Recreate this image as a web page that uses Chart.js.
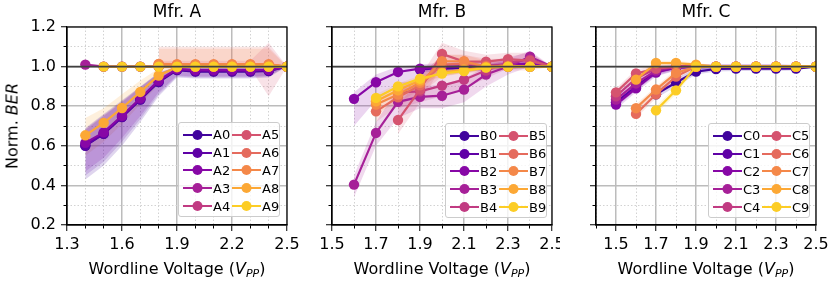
<!DOCTYPE html>
<html>
<head>
<meta charset="utf-8">
<script src="https://cdn.jsdelivr.net/npm/chart.js@4.4.1/dist/chart.umd.min.js"></script>
<style>
  body { margin: 0; width: 830px; height: 281px; position: relative; overflow: hidden; background: #fff;
         font-family: 'DejaVu Sans', sans-serif; color: #000; }
  canvas { position: absolute; top: 0; }
  .title { position: absolute; top: 0; width: 220px; height: 22px; line-height: 22px; text-align: center; font-size: 17px; }
  .xlabel { position: absolute; top: 258px; width: 220px; height: 22px; line-height: 22px; text-align: center;
            font-size: 16px; white-space: nowrap; }
  .xlabel sub { font-size: 11px; vertical-align: -3px; line-height: 0; }
  .ylabel { position: absolute; left: 12px; top: 126px; transform: translate(-50%, -50%) rotate(-90deg);
            font-size: 16px; white-space: nowrap; }
  .legend { position: absolute; width: 102px; height: 95px; box-sizing: border-box; padding: 3px 0 0 4px;
            border: 1px solid #cccccc; border-radius: 3px; background: rgba(255, 255, 255, 0.8);
            display: grid; grid-template-columns: 49px auto; grid-template-rows: repeat(5, 17.8px);
            grid-auto-flow: column; font-size: 13px; }
  .legend .item { display: flex; align-items: center; gap: 1px; }
  .legend svg { display: block; }
</style>
</head>
<body>
<canvas id="chartA" width="300" height="281" style="left:0px"></canvas>
<canvas id="chartB" width="260" height="281" style="left:300px"></canvas>
<canvas id="chartC" width="270" height="281" style="left:560px"></canvas>

<div class="title" style="left:67px">Mfr. A</div>
<div class="title" style="left:332px">Mfr. B</div>
<div class="title" style="left:596px">Mfr. C</div>

<div class="ylabel">Norm. <i>BER</i></div>
<div class="xlabel" style="left:67px">Wordline Voltage (<i>V</i><sub><i>PP</i></sub>)</div>
<div class="xlabel" style="left:332px">Wordline Voltage (<i>V</i><sub><i>PP</i></sub>)</div>
<div class="xlabel" style="left:596px">Wordline Voltage (<i>V</i><sub><i>PP</i></sub>)</div>

<div class="legend" id="legendA" style="left:178px;top:122px"></div>
<div class="legend" id="legendB" style="left:445px;top:123px"></div>
<div class="legend" id="legendC" style="left:708px;top:123px"></div>

<script>
// ---- data ----
const yTicks = [0.2, 0.4, 0.6, 0.8, 1.0, 1.2];
const yMinorTicks = [0.3, 0.5, 0.7, 0.9, 1.1];
const refLevel = 1.0;

// Mfr. A
const voltsA = [1.4, 1.5, 1.6, 1.7, 1.8, 1.9, 2.0, 2.1, 2.2, 2.3, 2.4, 2.5];
const namesA = ['A0', 'A1', 'A2', 'A3', 'A4', 'A5', 'A6', 'A7', 'A8', 'A9'];
const xTicksA = [1.3, 1.6, 1.9, 2.2, 2.5];
const xMinorA = [1.4, 1.5, 1.7, 1.8, 2.0, 2.1, 2.3, 2.4];
const meanA = [
  [0.600, 0.660, 0.745, 0.833, 0.922, 0.982, 0.975, 0.975, 0.975, 0.975, 0.978, 1.000],
  [0.603, 0.662, 0.746, 0.835, 0.926, 0.985, 0.978, 0.978, 0.978, 0.978, 0.980, 1.000],
  [0.615, 0.668, 0.752, 0.840, 0.930, 0.988, 0.982, 0.982, 0.982, 0.982, 0.984, 1.000],
  [1.010, 1.000, 1.000, 1.000, 1.000, 1.000, 1.000, 1.000, 1.000, 1.000, 1.000, 1.000],
  [null, 1.000, 1.000, 1.000, 1.000, 1.000, 1.000, 1.000, 1.000, 1.000, 1.000, 1.000],
  [null, null, null, null, 1.008, 1.005, 1.005, 1.005, 1.005, 1.005, 1.003, 1.000],
  [null, null, null, null, 1.012, 1.010, 1.010, 1.010, 1.010, 1.010, 1.010, 1.000],
  [null, null, null, null, 1.014, 1.012, 1.012, 1.012, 1.012, 1.012, 1.012, 1.000],
  [0.653, 0.716, 0.791, 0.872, 0.955, 0.997, 1.000, 1.000, 1.000, 1.000, 1.000, 1.000],
  [null, 1.000, 1.000, 1.000, 1.000, 1.000, 1.000, 1.000, 1.000, 1.000, 1.000, 1.000]
];
const lowA = [
  [0.430, 0.500, 0.600, 0.720, 0.850, 0.945, 0.940, 0.940, 0.940, 0.940, 0.945, 1.000],
  [0.450, 0.520, 0.620, 0.735, 0.860, 0.950, 0.945, 0.945, 0.945, 0.945, 0.950, 1.000],
  [0.470, 0.540, 0.640, 0.750, 0.870, 0.955, 0.950, 0.950, 0.950, 0.950, 0.955, 1.000],
  [1.005, 0.995, 0.995, 0.995, 0.995, 0.995, 0.995, 0.995, 0.995, 0.995, 0.995, 1.000],
  [null, 0.995, 0.995, 0.995, 0.995, 0.995, 0.995, 0.995, 0.995, 0.995, 0.995, 1.000],
  [null, null, null, null, 0.990, 0.990, 0.990, 0.990, 0.990, 0.990, 0.850, 1.000],
  [null, null, null, null, 1.000, 1.000, 1.000, 1.000, 1.000, 1.000, 1.000, 1.000],
  [null, null, null, null, 1.000, 1.000, 1.000, 1.000, 1.000, 1.000, 1.000, 1.000],
  [0.550, 0.620, 0.710, 0.810, 0.910, 0.985, 0.990, 0.990, 0.990, 0.990, 0.990, 1.000],
  [null, 0.995, 0.995, 0.995, 0.995, 0.995, 0.995, 0.995, 0.995, 0.995, 0.995, 1.000]
];
const highA = [
  [0.690, 0.760, 0.830, 0.900, 0.970, 1.000, 1.000, 1.000, 1.000, 1.000, 1.000, 1.000],
  [0.685, 0.755, 0.825, 0.898, 0.968, 1.000, 1.000, 1.000, 1.000, 1.000, 1.000, 1.000],
  [0.680, 0.750, 0.820, 0.895, 0.965, 1.000, 1.000, 1.000, 1.000, 1.000, 1.000, 1.000],
  [1.015, 1.005, 1.005, 1.005, 1.005, 1.005, 1.005, 1.005, 1.005, 1.005, 1.005, 1.000],
  [null, 1.005, 1.005, 1.005, 1.005, 1.005, 1.005, 1.005, 1.005, 1.005, 1.005, 1.000],
  [null, null, null, null, 1.030, 1.030, 1.030, 1.030, 1.030, 1.030, 1.120, 1.000],
  [null, null, null, null, 1.100, 1.100, 1.100, 1.100, 1.100, 1.100, 1.100, 1.000],
  [null, null, null, null, 1.090, 1.090, 1.090, 1.090, 1.090, 1.090, 1.090, 1.000],
  [0.740, 0.790, 0.860, 0.930, 0.990, 1.010, 1.010, 1.010, 1.010, 1.010, 1.010, 1.000],
  [null, 1.005, 1.005, 1.005, 1.005, 1.005, 1.005, 1.005, 1.005, 1.005, 1.005, 1.000]
];

// Mfr. B
const voltsB = [1.6, 1.7, 1.8, 1.9, 2.0, 2.1, 2.2, 2.3, 2.4, 2.5];
const namesB = ['B0', 'B1', 'B2', 'B3', 'B4', 'B5', 'B6', 'B7', 'B8', 'B9'];
const xTicksB = [1.5, 1.7, 1.9, 2.1, 2.3, 2.5];
const xMinorB = [1.6, 1.8, 2.0, 2.2, 2.4];
const meanB = [
  [null, null, null, null, 0.990, 0.995, 1.000, 1.000, 1.000, 1.000],
  [null, null, null, 0.985, 0.995, 1.000, 1.000, 1.005, 1.010, 1.000],
  [0.837, 0.921, 0.973, 0.990, 1.000, 1.000, 1.005, 1.010, 1.015, 1.000],
  [0.404, 0.665, 0.822, 0.847, 0.853, 0.884, 0.960, 1.000, 1.050, 1.000],
  [null, null, 0.870, 0.875, 0.904, 0.934, 0.980, 1.020, 1.035, 1.000],
  [null, null, 0.730, 0.884, 1.064, 1.025, 1.025, 1.038, 1.030, 1.000],
  [null, 0.774, 0.845, 0.905, 1.010, 1.015, 1.005, 1.005, 1.000, 1.000],
  [null, 0.808, 0.859, 0.918, 1.027, 1.027, 1.000, 1.000, 1.000, 1.000],
  [null, 0.825, 0.880, 0.930, 0.970, 0.985, 0.997, 1.000, 1.000, 1.000],
  [null, 0.842, 0.900, 0.939, 0.965, 0.977, 0.995, 1.000, 1.000, 1.000]
];
const lowB = [
  [null, null, null, null, 0.975, 0.985, 0.990, 0.990, 0.990, 1.000],
  [null, null, null, 0.970, 0.980, 0.985, 0.990, 0.990, 0.995, 1.000],
  [0.700, 0.830, 0.900, 0.950, 0.970, 0.975, 0.980, 0.990, 0.995, 1.000],
  [0.340, 0.600, 0.740, 0.790, 0.790, 0.820, 0.900, 0.960, 1.000, 1.000],
  [null, null, 0.790, 0.820, 0.850, 0.890, 0.940, 0.990, 1.000, 1.000],
  [null, null, 0.660, 0.820, 1.000, 0.980, 0.990, 1.000, 0.990, 1.000],
  [null, 0.720, 0.800, 0.860, 0.950, 0.970, 0.970, 0.980, 0.980, 1.000],
  [null, 0.760, 0.820, 0.880, 0.980, 0.990, 0.980, 0.985, 0.990, 1.000],
  [null, 0.800, 0.860, 0.910, 0.950, 0.970, 0.985, 0.990, 0.995, 1.000],
  [null, 0.820, 0.880, 0.925, 0.950, 0.965, 0.985, 0.990, 0.995, 1.000]
];
const highB = [
  [null, null, null, null, 1.005, 1.005, 1.010, 1.010, 1.010, 1.000],
  [null, null, null, 1.000, 1.010, 1.015, 1.015, 1.020, 1.025, 1.000],
  [0.870, 0.960, 1.000, 1.010, 1.020, 1.025, 1.030, 1.030, 1.035, 1.000],
  [0.450, 0.720, 0.890, 0.900, 0.910, 0.940, 1.000, 1.040, 1.080, 1.000],
  [null, null, 0.920, 0.930, 0.960, 0.980, 1.020, 1.050, 1.070, 1.000],
  [null, null, 0.800, 0.950, 1.120, 1.080, 1.060, 1.070, 1.070, 1.000],
  [null, 0.830, 0.890, 0.950, 1.060, 1.060, 1.040, 1.040, 1.030, 1.000],
  [null, 0.850, 0.900, 0.950, 1.060, 1.060, 1.030, 1.020, 1.015, 1.000],
  [null, 0.850, 0.900, 0.950, 0.990, 1.000, 1.010, 1.010, 1.005, 1.000],
  [null, 0.860, 0.915, 0.955, 0.980, 0.990, 1.005, 1.010, 1.005, 1.000]
];

// Mfr. C
const voltsC = [1.5, 1.6, 1.7, 1.8, 1.9, 2.0, 2.1, 2.2, 2.3, 2.4, 2.5];
const namesC = ['C0', 'C1', 'C2', 'C3', 'C4', 'C5', 'C6', 'C7', 'C8', 'C9'];
const xTicksC = [1.5, 1.7, 1.9, 2.1, 2.3, 2.5];
const xMinorC = [1.4, 1.6, 1.8, 2.0, 2.2, 2.4];
const meanC = [
  [null, null, 0.860, 0.920, 0.975, 0.988, 0.990, 0.990, 0.990, 0.990, 1.000],
  [0.820, 0.900, 0.975, 0.995, 1.000, 1.000, 1.000, 1.000, 1.000, 1.000, 1.000],
  [0.808, 0.890, 0.970, 0.995, 1.000, 1.000, 1.000, 1.000, 1.000, 1.000, 1.000],
  [0.833, 0.915, 0.980, 1.000, 1.000, 1.000, 1.000, 1.000, 1.000, 1.000, 1.000],
  [0.850, 0.940, 0.990, 1.000, 1.000, 1.000, 1.000, 1.000, 1.000, 1.000, 1.000],
  [0.870, 0.965, 0.990, 1.000, 1.000, 1.000, 1.000, 1.000, 1.000, 1.000, 1.000],
  [null, 0.761, 0.860, 0.950, 1.000, 1.000, 1.000, 1.000, 1.000, 1.000, 1.000],
  [null, 0.790, 0.884, 0.968, 1.000, 1.000, 1.000, 1.000, 1.000, 1.000, 1.000],
  [null, 0.934, 1.018, 1.018, 1.010, 1.000, 1.000, 1.000, 1.000, 1.000, 1.000],
  [null, null, 0.779, 0.880, 1.000, 1.000, 1.000, 1.000, 1.000, 1.000, 1.000]
];
const lowC = [
  [null, null, 0.840, 0.900, 0.960, 0.975, 0.978, 0.978, 0.978, 0.980, 1.000],
  [0.795, 0.880, 0.955, 0.980, 0.985, 0.985, 0.985, 0.985, 0.985, 0.988, 1.000],
  [0.785, 0.870, 0.950, 0.980, 0.985, 0.985, 0.985, 0.985, 0.985, 0.988, 1.000],
  [0.810, 0.895, 0.960, 0.985, 0.990, 0.990, 0.990, 0.990, 0.990, 0.990, 1.000],
  [0.830, 0.920, 0.975, 0.990, 0.995, 0.995, 0.995, 0.995, 0.995, 0.995, 1.000],
  [0.850, 0.945, 0.975, 0.990, 0.995, 0.995, 0.995, 0.995, 0.995, 0.995, 1.000],
  [null, 0.740, 0.840, 0.935, 0.990, 0.995, 0.995, 0.995, 0.995, 0.995, 1.000],
  [null, 0.770, 0.865, 0.950, 0.990, 0.995, 0.995, 0.995, 0.995, 0.995, 1.000],
  [null, 0.915, 1.005, 1.005, 1.000, 0.995, 0.995, 0.995, 0.995, 0.995, 1.000],
  [null, null, 0.760, 0.860, 0.990, 0.995, 0.995, 0.995, 0.995, 0.995, 1.000]
];
const highC = [
  [null, null, 0.880, 0.940, 0.990, 1.000, 1.000, 1.000, 1.000, 1.000, 1.000],
  [0.845, 0.920, 0.990, 1.005, 1.010, 1.010, 1.010, 1.010, 1.010, 1.008, 1.000],
  [0.830, 0.910, 0.985, 1.005, 1.010, 1.010, 1.010, 1.010, 1.010, 1.008, 1.000],
  [0.855, 0.935, 0.995, 1.010, 1.010, 1.010, 1.010, 1.010, 1.010, 1.008, 1.000],
  [0.870, 0.960, 1.005, 1.010, 1.005, 1.005, 1.005, 1.005, 1.005, 1.005, 1.000],
  [0.890, 0.985, 1.005, 1.010, 1.005, 1.005, 1.005, 1.005, 1.005, 1.005, 1.000],
  [null, 0.785, 0.880, 0.965, 1.010, 1.005, 1.005, 1.005, 1.005, 1.005, 1.000],
  [null, 0.810, 0.900, 0.985, 1.010, 1.005, 1.005, 1.005, 1.005, 1.005, 1.000],
  [null, 0.950, 1.030, 1.030, 1.020, 1.005, 1.005, 1.005, 1.005, 1.005, 1.000],
  [null, null, 0.800, 0.900, 1.010, 1.005, 1.005, 1.005, 1.005, 1.005, 1.000]
];

// plasma colormap samples, one per series index
const plasmaColors = ['#41049d', '#5f01a6', '#8707a6', '#a62098', '#c13b82',
  '#d5536f', '#e56b5d', '#f48849', '#fca835', '#fccd25'];

const tickFont = {family: `'DejaVu Sans', sans-serif`, size: 16};
const majorGrid = `#bcbcbc`;
const minorGrid = `#d2d2d2`;

const withAlpha = (hex, a) => {
  const n = parseInt(hex.slice(1), 16);
  return `rgba(${n >> 16}, ${(n >> 8) & 255}, ${n & 255}, ${a})`;
};

const toPoints = (volts, values) => volts.map((v, i) => ({x: v, y: values[i]}));

const framePlugin = {
  id: `frame`,
  afterDatasetsDraw(chart) {
    const {ctx, chartArea: a} = chart;
    ctx.save();
    ctx.strokeStyle = `#000`;
    ctx.lineWidth = 1.2;
    ctx.strokeRect(a.left, a.top, a.right - a.left, a.bottom - a.top);
    ctx.restore();
  }
};

function buildDatasets(p) {
  const bands = [];
  const lines = [];
  p.names.forEach((name, i) => {
    const color = plasmaColors[i];
    const loIndex = bands.length;
    bands.push({
      label: `${name} low`, data: toPoints(p.volts, p.lows[i]),
      borderWidth: 0, borderColor: `transparent`, pointRadius: 0, fill: false, order: 30
    });
    bands.push({
      label: `${name} high`, data: toPoints(p.volts, p.highs[i]),
      borderWidth: 0, borderColor: `transparent`, pointRadius: 0,
      fill: loIndex, backgroundColor: withAlpha(color, 0.17), order: 30
    });
    lines.push({
      label: name, data: toPoints(p.volts, p.means[i]),
      borderColor: color, backgroundColor: color, borderWidth: 2.2,
      pointRadius: 5.2, pointBorderWidth: 0, pointBackgroundColor: color,
      fill: false, tension: 0, order: 20 - i
    });
  });
  const ref = {
    label: `ref`, data: [{x: p.xMin, y: refLevel}, {x: p.xMax, y: refLevel}],
    borderColor: `#404040`, borderWidth: 1.6, pointRadius: 0, fill: false, order: 0
  };
  return [...bands, ...lines, ref];
}

function buildScales(p) {
  const setTicks = (values) => (s) => {
    s.ticks = values.map((value) => ({value}));
  };
  return {
    x: {
      type: `linear`, axis: `x`, position: `bottom`, min: p.xMin, max: p.xMax, weight: 1,
      afterBuildTicks: setTicks(p.xTicks),
      afterFit: (s) => {
        s.height = 56; s.paddingLeft = 0; s.paddingRight = 0;
      },
      ticks: {callback: (v) => v.toFixed(1), font: tickFont, color: `#000`, padding: 4, maxRotation: 0, autoSkip: false},
      grid: {color: majorGrid, lineWidth: 1.5, tickColor: `#000`, tickLength: 6, tickWidth: 1},
      border: {color: `#000`, width: 1.2}
    },
    xMinor: {
      type: `linear`, axis: `x`, position: `bottom`, min: p.xMin, max: p.xMax, weight: 0,
      afterBuildTicks: setTicks(p.xMinor),
      afterFit: (s) => {
        s.height = 0; s.paddingLeft = 0; s.paddingRight = 0;
      },
      ticks: {display: false},
      grid: {color: minorGrid, lineWidth: 1, tickColor: `#000`, tickLength: 3.5, tickWidth: 1},
      border: {display: false, dash: [1.5, 2]}
    },
    y: {
      type: `linear`, axis: `y`, position: `left`, min: 0.2, max: 1.2, weight: 1,
      afterBuildTicks: setTicks(yTicks),
      afterFit: (s) => {
        s.width = p.yWidth; s.paddingTop = 0; s.paddingBottom = 0;
      },
      ticks: {callback: (v) => (p.yLabels ? v.toFixed(1) : ``), font: tickFont, color: `#000`, padding: 5},
      grid: {color: majorGrid, lineWidth: 1.5, tickColor: `#000`, tickLength: 6, tickWidth: 1},
      border: {color: `#000`, width: 1.2}
    },
    yMinor: {
      type: `linear`, axis: `y`, position: `left`, min: 0.2, max: 1.2, weight: 0,
      afterBuildTicks: setTicks(yMinorTicks),
      afterFit: (s) => {
        s.width = 0; s.paddingTop = 0; s.paddingBottom = 0;
      },
      ticks: {display: false},
      grid: {color: minorGrid, lineWidth: 1, tickColor: `#000`, tickLength: 3.5, tickWidth: 1},
      border: {display: false, dash: [1.5, 2]}
    }
  };
}

function renderLegend(el, names) {
  el.innerHTML = names.map((name, i) => {
    const c = plasmaColors[i];
    return `<div class="item"><svg width="29" height="12"><line x1="0" y1="6" x2="29" y2="6" stroke="${c}" stroke-width="2"/>` +
      `<circle cx="14.5" cy="6" r="5" fill="${c}"/></svg><span>${name}</span></div>`;
  }).join(``);
}

const panels = [
  {canvas: `chartA`, legend: `legendA`, volts: voltsA, names: namesA, means: meanA, lows: lowA, highs: highA,
    xMin: 1.3, xMax: 2.5, xTicks: xTicksA, xMinor: xMinorA, yWidth: 67, padRight: 13, yLabels: true},
  {canvas: `chartB`, legend: `legendB`, volts: voltsB, names: namesB, means: meanB, lows: lowB, highs: highB,
    xMin: 1.5, xMax: 2.5, xTicks: xTicksB, xMinor: xMinorB, yWidth: 32, padRight: 8, yLabels: false},
  {canvas: `chartC`, legend: `legendC`, volts: voltsC, names: namesC, means: meanC, lows: lowC, highs: highC,
    xMin: 1.4, xMax: 2.5, xTicks: xTicksC, xMinor: xMinorC, yWidth: 36, padRight: 14, yLabels: false}
];

panels.forEach((p) => {
  new Chart(document.getElementById(p.canvas), {
    type: `line`,
    data: {datasets: buildDatasets(p)},
    options: {
      responsive: false,
      animation: false,
      devicePixelRatio: 1,
      events: [],
      layout: {padding: {left: 0, right: p.padRight, top: 27, bottom: 0}},
      plugins: {
        legend: {display: false},
        title: {display: false},
        tooltip: {enabled: false},
        filler: {drawTime: `beforeDatasetsDraw`, propagate: false}
      },
      scales: buildScales(p)
    },
    plugins: [framePlugin]
  });
  renderLegend(document.getElementById(p.legend), p.names);
});
</script>
</body>
</html>
